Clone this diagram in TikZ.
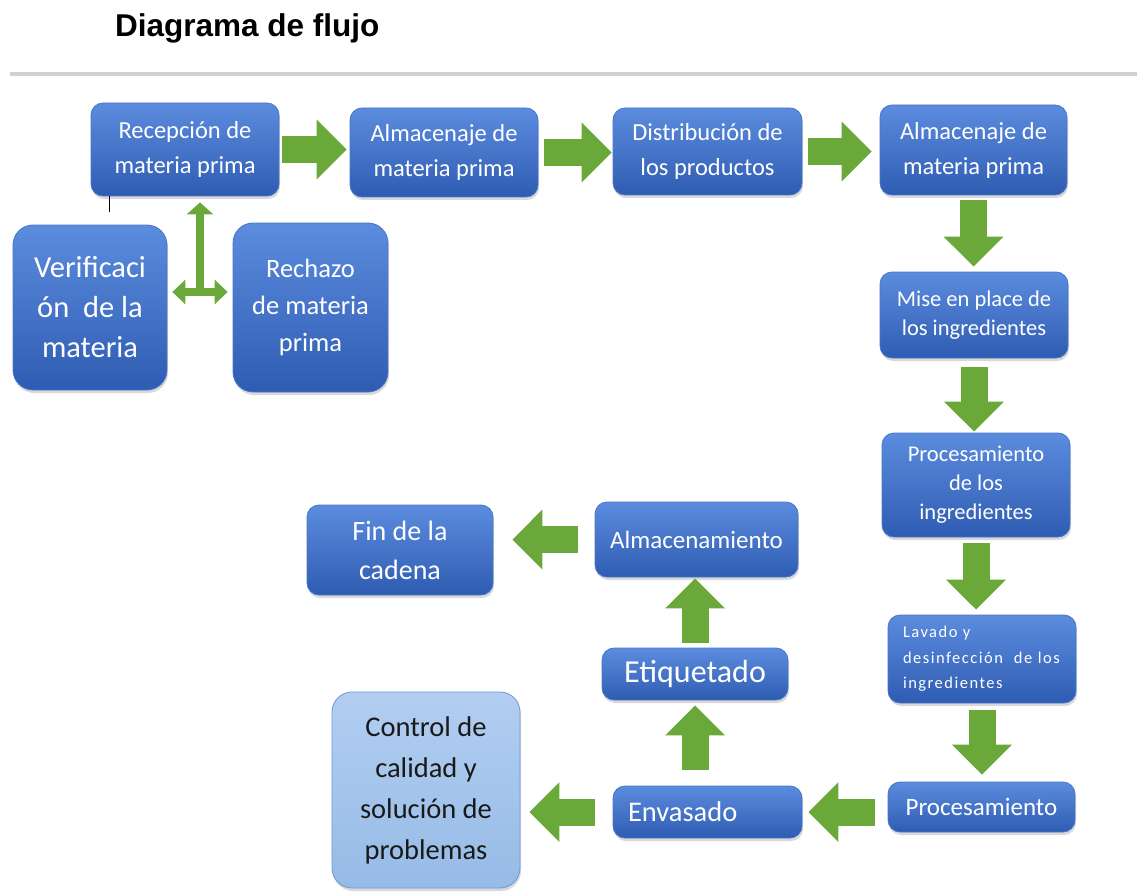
\documentclass[tikz,border=0pt]{standalone}
\usepackage{fontspec}
\setmainfont{Carlito}
\newfontfamily\titlefont{Liberation Sans}
\usepackage{tikz}
\usetikzlibrary{arrows.meta, shadows, calc}
\definecolor{boxTop}{RGB}{92,140,222}
\definecolor{boxBottom}{RGB}{46,92,178}
\definecolor{boxLine}{RGB}{72,118,202}
\definecolor{arrowGreen}{RGB}{106,168,58}
\definecolor{lightTop}{RGB}{178,206,241}
\definecolor{lightBottom}{RGB}{150,187,230}
\definecolor{lightLine}{RGB}{112,152,212}

\begin{document}
\begin{tikzpicture}[x=1pt, y=-1pt,
  every node/.style = {inner sep=0pt, align=center},
  paso/.style   = {draw=boxLine, line width=0.8pt, rounded corners=12pt,
    top color=boxTop, bottom color=boxBottom, text=white,
    drop shadow={opacity=0.3, shadow xshift=1pt, shadow yshift=-3pt}},
  grande/.style = {paso, rounded corners=20pt},
  flecha/.style = {draw=arrowGreen, line width=27pt,
    -{Triangle[width=58pt, length=30pt]}, shorten <=5pt, shorten >=5pt},
  fina/.style   = {draw=arrowGreen, line width=8pt},
]
  \useasboundingbox (0,0) rectangle (1137,896);

  \node[font=\titlefont\bfseries\fontsize{31.5}{36}\selectfont, anchor=base west]
    (titulo) at (115,37) {Diagrama de flujo};
  \draw[black!18, line width=4pt] (10,74) -- (1137,74);

  \node[paso, minimum width=188pt, minimum height=93pt,
    font=\fontsize{24.5}{35}\selectfont] (recMateria) at (185,149.5)
    {Recepción de\\materia prima};
  \node[paso, minimum width=188pt, minimum height=89pt,
    font=\fontsize{24.5}{35}\selectfont] (almMateria) at (444,152.5)
    {Almacenaje de\\materia prima};
  \node[paso, minimum width=189pt, minimum height=87pt,
    font=\fontsize{24.5}{35}\selectfont] (distProd) at (707.5,151.5)
    {Distribución de\\los productos};
  \node[paso, minimum width=187pt, minimum height=90pt,
    font=\fontsize{24.5}{35}\selectfont] (almMateriaB) at (973.5,150)
    {Almacenaje de\\materia prima};

  \node[grande, minimum width=154pt, minimum height=165pt,
    font=\fontsize{30.5}{40}\selectfont] (verMateria) at (90,307.5)
    {Verificaci\\ón~ de la\\materia};
  \node[grande, minimum width=155pt, minimum height=169pt,
    font=\fontsize{26.5}{37}\selectfont] (rechMateria) at (310.5,307.5)
    {Rechazo\\de materia\\prima};

  \node[paso, minimum width=188pt, minimum height=86pt,
    font=\fontsize{22.5}{29}\selectfont] (misePlace) at (974,315)
    {Mise en place de\\los ingredientes};
  \node[paso, minimum width=188pt, minimum height=104pt,
    font=\fontsize{22.5}{29}\selectfont] (procIngr) at (976,485)
    {Procesamiento\\de los\\ingredientes};
  \node[paso, minimum width=188pt, minimum height=88pt, inner xsep=15pt,
    text width=158pt, align=left,
    font=\fontsize{16.5}{25.5}\selectfont\addfontfeature{LetterSpace=9}]
    (lavIngr) at (982,659)
    {Lavado y\\desinfección~ de los\\ingredientes};
  \node[paso, minimum width=187pt, minimum height=50pt,
    font=\fontsize{25}{30}\selectfont] (procFinal) at (981.5,807)
    {Procesamiento};

  \node[paso, minimum width=189pt, minimum height=52pt, inner xsep=15pt,
    text width=159pt, align=left,
    font=\fontsize{28.5}{34}\selectfont] (envasado) at (707.5,812)
    {Envasado};
  \node[paso, minimum width=186pt, minimum height=52pt,
    font=\fontsize{32}{38}\selectfont] (etiquetado) at (695,674)
    {Etiquetado};
  \node[paso, minimum width=203pt, minimum height=75pt,
    font=\fontsize{25}{30}\selectfont] (almacenamiento) at (696.5,539.5)
    {Almacenamiento};
  \node[paso, minimum width=186pt, minimum height=90pt,
    font=\fontsize{28}{39}\selectfont] (finCadena) at (400,550)
    {Fin de la\\cadena};
  \node[grande, draw=lightLine, top color=lightTop, bottom color=lightBottom,
    text=black!90, minimum width=188pt, minimum height=196pt,
    font=\fontsize{28.5}{41}\selectfont] (controlCalidad) at (426,790)
    {Control de\\calidad y\\solución de\\problemas};

  \draw[flecha, shorten <=3pt, shorten >=3pt]
    (recMateria.east) -- (recMateria.east -| almMateria.west);
  \draw[flecha, shorten <=6pt, shorten >=1pt]
    (almMateria.east) -- (almMateria.east -| distProd.west);
  \draw[flecha, shorten <=6pt, shorten >=8pt]
    (distProd.east) -- (distProd.east -| almMateriaB.west);
  \draw[flecha] (almMateriaB.south) -- (almMateriaB.south |- misePlace.north);
  \draw[flecha, shorten <=9pt, shorten >=1pt]
    (misePlace.south) -- (misePlace.south |- procIngr.north);
  \draw[flecha, shorten <=6pt]
    (procIngr.south) -- (procIngr.south |- lavIngr.north);
  \draw[flecha, shorten <=7pt, shorten >=7pt]
    (lavIngr.south) -- (lavIngr.south |- procFinal.north);
  \draw[flecha, shorten <=13pt, shorten >=6pt]
    (envasado.east -| procFinal.west) -- (envasado.east);
  \draw[flecha, shorten <=18pt, shorten >=9pt]
    (envasado.west) -- (envasado.west -| controlCalidad.east);
  \draw[flecha, shorten <=16pt, shorten >=5pt]
    (etiquetado.south |- envasado.north) -- (etiquetado.south);
  \draw[flecha, shorten >=1pt]
    (etiquetado.north) -- (etiquetado.north |- almacenamiento.south);
  \draw[flecha, shorten <=17pt, shorten >=19pt]
    (almacenamiento.west) -- (almacenamiento.west -| finCadena.east);

  \coordinate (cruce) at (200,292);
  \draw[fina, -{Triangle[width=26pt, length=12pt]}, shorten >=6pt]
    (cruce) -- (cruce |- recMateria.south);
  \draw[fina, {Triangle[width=24pt, length=13pt]}-{Triangle[width=24pt, length=13pt]},
    shorten <=5pt, shorten >=5pt]
    (cruce -| verMateria.east) -- (cruce -| rechMateria.west);
  \draw[black, line width=1.5pt]
    ([xshift=19pt]recMateria.south west) -- ++(0,16);
\end{tikzpicture}
\end{document}
